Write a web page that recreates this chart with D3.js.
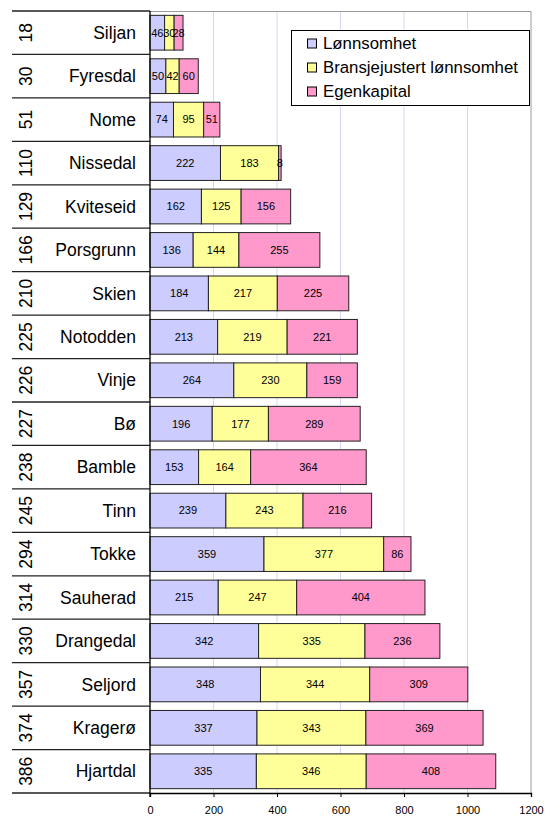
<!DOCTYPE html>
<html><head><meta charset="utf-8">
<script src="https://cdn.jsdelivr.net/npm/d3@7"></script>
<style>body{margin:0;background:#fff}svg{display:block;font-family:"Liberation Sans",Arial,sans-serif}</style>
</head><body><svg id="c" width="545" height="816"></svg>
<script>
const names = ["Siljan","Fyresdal","Nome","Nissedal","Kviteseid","Porsgrunn","Skien","Notodden","Vinje","Bø","Bamble","Tinn","Tokke","Sauherad","Drangedal","Seljord","Kragerø","Hjartdal"];
const ranks = [18,30,51,110,129,166,210,225,226,227,238,245,294,314,330,357,374,386];
const lonnsomhet = [46,50,74,222,162,136,184,213,264,196,153,239,359,215,342,348,337,335];
const bransje = [30,42,95,183,125,144,217,219,230,177,164,243,377,247,335,344,343,346];
const egenkapital = [28,60,51,8,156,255,225,221,159,289,364,216,86,404,236,309,369,408];
const seriesNames = ["Lønnsomhet","Bransjejustert lønnsomhet","Egenkapital"];
const colors = ["#ccccff","#ffff99","#ff99cc"];
const xTicks = [0,200,400,600,800,1000,1200];

const svg = d3.select("#c");
const x = d3.scaleLinear().domain([0,1200]).range([150,531]);
const y = d3.scaleBand().domain(names).range([11,793]).paddingInner(0.2).paddingOuter(0.1);
const step = y.step();
const rows = names.map((n,i)=>({name:n, rank:ranks[i], vals:[lonnsomhet[i],bransje[i],egenkapital[i]]}));
const stacked = d3.stack().keys([0,1,2]).value((d,k)=>d.vals[k])(rows);

// gridlines
svg.append("g").selectAll("line").data(xTicks.slice(1,-1)).join("line")
  .attr("x1",d=>x(d)).attr("x2",d=>x(d)).attr("y1",11).attr("y2",793)
  .attr("stroke","#d6d6f5").attr("stroke-width",1);
// plot border (top/right)
svg.append("path").attr("d",`M${x(0)},11.5H${x(1200)}V793`).attr("fill","none").attr("stroke","#9a9a9a").attr("stroke-width",1);

// bars
const g = svg.append("g");
stacked.forEach((s,k)=>{
  g.selectAll(null).data(s).join("rect")
    .attr("x",d=>x(d[0])).attr("y",(d,i)=>y(names[i]))
    .attr("width",d=>x(d[1])-x(d[0])).attr("height",y.bandwidth())
    .attr("fill",colors[k]).attr("stroke","#222").attr("stroke-width",1);
  g.selectAll(null).data(s).join("text")
    .attr("x",d=>(x(d[0])+x(d[1]))/2).attr("y",(d,i)=>y(names[i])+y.bandwidth()/2)
    .attr("dy","0.35em").attr("text-anchor","middle").attr("font-size",11).attr("fill","#000")
    .text(d=>d[1]-d[0]);
});

// label table
const tbl = svg.append("g");
const bounds = names.map((n,i)=>11+i*step);
bounds.push(793);
tbl.selectAll("line").data(bounds).join("line")
  .attr("x1",12).attr("x2",150).attr("y1",d=>d).attr("y2",d=>d)
  .attr("stroke","#222").attr("stroke-width",1.3);
tbl.selectAll("text.n").data(rows).join("text").attr("class","n")
  .attr("x",136).attr("y",(d,i)=>11+i*step+step/2).attr("dy","0.35em")
  .attr("text-anchor","end").attr("font-size",17.5).text(d=>d.name);
tbl.selectAll("text.r").data(rows).join("text").attr("class","r")
  .attr("transform",(d,i)=>`translate(26,${11+i*step+step/2}) rotate(-90)`)
  .attr("dy","0.35em").attr("text-anchor","middle").attr("font-size",17.5).text(d=>d.rank);

// axes
svg.append("line").attr("x1",150).attr("x2",150).attr("y1",11).attr("y2",797).attr("stroke","#000").attr("stroke-width",1.3);
const xa = svg.append("g").attr("transform","translate(0,793)")
  .call(d3.axisBottom(x).tickValues(xTicks).tickSize(4).tickPadding(9).tickFormat(d3.format("d")));
xa.select(".domain").attr("stroke","#000").attr("stroke-width",1.3);
xa.selectAll(".tick line").attr("stroke","#000");
xa.selectAll("text").attr("font-size",11).attr("font-family","Liberation Sans, Arial, sans-serif");

// legend
const lg = svg.append("g");
lg.append("rect").attr("x",291.5).attr("y",30.5).attr("width",238).attr("height",75)
  .attr("fill","#fff").attr("stroke","#000").attr("stroke-width",1);
seriesNames.forEach((s,i)=>{
  const cy = 43.5 + i*24;
  lg.append("rect").attr("x",307.5).attr("y",cy-4.5).attr("width",9).attr("height",9)
    .attr("fill",colors[i]).attr("stroke","#000").attr("stroke-width",1);
  lg.append("text").attr("x",323).attr("y",cy).attr("dy","0.35em").attr("font-size",16.8).text(s);
});
</script></body></html>
